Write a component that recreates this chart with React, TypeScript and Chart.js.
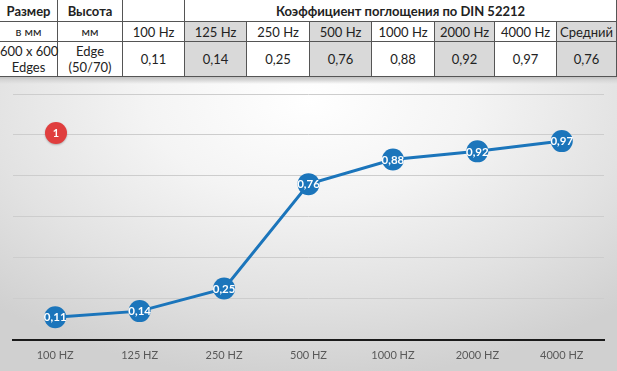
import React, { useEffect, useRef } from "react";
import { Chart, registerables } from "chart.js";

Chart.register(...registerables);

// ---- data ----
const categories = ["100 HZ", "125 HZ", "250 HZ", "500 HZ", "1000 HZ", "2000 HZ", "4000 HZ"];
const values = [0.11, 0.14, 0.25, 0.76, 0.88, 0.92, 0.97];
const yMax = 1.2;
const yStep = 0.2;

const tableHeads = ["100 Hz", "125 Hz", "250 Hz", "500 Hz", "1000 Hz", "2000 Hz", "4000 Hz", "Средний"];
const tableValues = ["0,11", "0,14", "0,25", "0,76", "0,88", "0,92", "0,97", "0,76"];
const shadedCols = [1, 3, 5, 7];
const colWidths = [58, 65, 62, 62, 63, 62, 63, 60, 62, 60];
const tableTitle = "Коэффициент поглощения по DIN 52212";

const FONT = "Lato, 'Open Sans', sans-serif";
const BLUE = "#1b75bb";

const fmt = (v: number) => v.toFixed(2).replace(".", ",");

const valueLabels = {
  id: "valueLabels",
  afterDatasetsDraw(chart: any) {
    const ctx = chart.ctx;
    const meta = chart.getDatasetMeta(0);
    ctx.save();
    ctx.font = "bold 11.5px " + FONT;
    ctx.fillStyle = "#ffffff";
    ctx.textAlign = "center";
    ctx.textBaseline = "middle";
    meta.data.forEach((el: any, i: number) => {
      ctx.fillText(fmt(values[i]), el.x, el.y + 0.5);
    });
    ctx.restore();
  },
};

export default function App() {
  const ref = useRef<HTMLCanvasElement | null>(null);

  useEffect(() => {
    document.body.style.margin = "0";
    if (!ref.current) return;
    const chart = new Chart(ref.current, {
      type: "line",
      data: {
        labels: categories,
        datasets: [
          {
            data: values,
            borderColor: BLUE,
            backgroundColor: BLUE,
            borderWidth: 3,
            pointRadius: 11,
            pointBackgroundColor: BLUE,
            pointBorderWidth: 0,
            tension: 0,
          },
        ],
      },
      options: {
        animation: false,
        responsive: false,
        events: [],
        layout: { padding: { left: 13, right: 13, top: 7, bottom: 0 } },
        plugins: { legend: { display: false }, tooltip: { enabled: false } },
        scales: {
          x: {
            offset: true,
            grid: { display: false, drawTicks: false },
            border: { display: true, color: "#1a1a1a", width: 2 },
            ticks: { color: "#595959", font: { family: FONT, size: 11 }, padding: 9 },
          },
          y: {
            min: 0,
            max: yMax,
            ticks: { display: false, stepSize: yStep },
            border: { display: false },
            grid: {
              drawTicks: false,
              color: (c: any) => (c.tick && c.tick.value === 0 ? "rgba(0,0,0,0)" : "#cdcdcd"),
              lineWidth: 1,
            },
          },
        },
      },
      plugins: [valueLabels],
    });
    return () => chart.destroy();
  }, []);

  const cell = (extra: any = {}) => ({
    border: "1px solid #555",
    padding: 0,
    textAlign: "center" as const,
    verticalAlign: "middle" as const,
    whiteSpace: "nowrap" as const,
    overflow: "visible" as const,
    ...extra,
  });

  return (
    <div style={{ width: 617, height: 371, position: "relative", overflow: "hidden", fontFamily: FONT, color: "#222", background: "#fff" }}>
      <table
        style={{
          borderCollapse: "collapse",
          tableLayout: "fixed",
          width: 618,
          marginLeft: -1,
          marginTop: -1,
          fontSize: 13,
          lineHeight: "16px",
        }}
      >
        <colgroup>
          {colWidths.map((w, i) => (
            <col key={i} style={{ width: w }} />
          ))}
        </colgroup>
        <tbody>
          <tr style={{ height: 22 }}>
            <td style={cell({ fontWeight: 700 })}>Размер</td>
            <td style={cell({ fontWeight: 700 })}>Высота</td>
            <td style={cell()}></td>
            <td style={cell({ fontWeight: 700 })} colSpan={7}>
              {tableTitle}
            </td>
          </tr>
          <tr style={{ height: 20 }}>
            <td style={cell({ fontSize: 12 })}>в мм</td>
            <td style={cell({ fontSize: 12 })}>мм</td>
            {tableHeads.map((h, i) => (
              <td key={i} style={cell({ background: shadedCols.includes(i) ? "#d9d9d9" : "#fff" })}>
                {h}
              </td>
            ))}
          </tr>
          <tr style={{ height: 35 }}>
            <td style={cell()}>
              600 x 600
              <br />
              Edges
            </td>
            <td style={cell()}>
              Edge
              <br />
              (50/70)
            </td>
            {tableValues.map((v, i) => (
              <td key={i} style={cell({ background: shadedCols.includes(i) ? "#d9d9d9" : "#fff" })}>
                {v}
              </td>
            ))}
          </tr>
        </tbody>
      </table>
      <div
        style={{
          position: "absolute",
          left: 0,
          top: 77,
          width: 617,
          height: 294,
          background:
            "linear-gradient(to bottom, #c2c2c2 0px, #d6d6d6 3px, rgba(230,230,230,0) 7px), radial-gradient(ellipse 75% 95% at 50% 8%, #ffffff 0%, #f4f4f4 35%, #e2e2e2 70%, #d0d0d0 100%)",
        }}
      >
        <canvas ref={ref} width={617} height={288} style={{ position: "absolute", left: 0, top: 6, width: 617, height: 288 }} />
        <div
          style={{
            position: "absolute",
            left: 45,
            top: 45,
            width: 22,
            height: 22,
            borderRadius: "50%",
            background: "#e03e3e",
            color: "#fff",
            fontWeight: 700,
            fontSize: 11,
            lineHeight: "22px",
            textAlign: "center",
            boxShadow: "0 1px 2px rgba(0,0,0,0.25)",
          }}
        >
          1
        </div>
      </div>
    </div>
  );
}
